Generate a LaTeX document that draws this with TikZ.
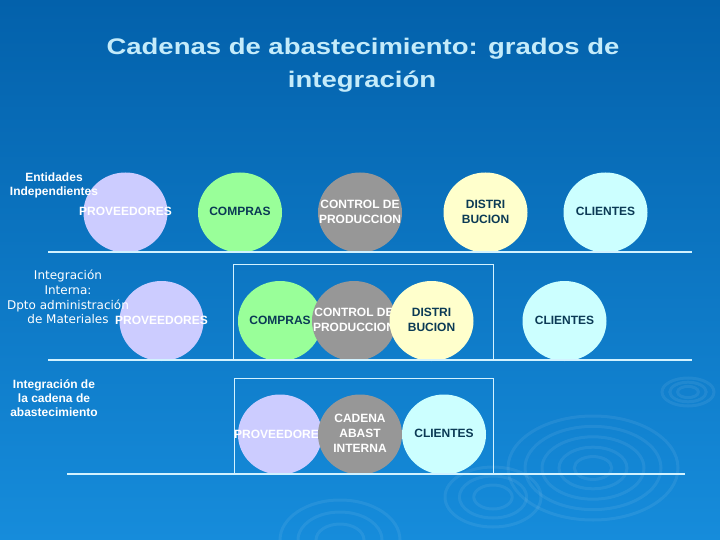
\documentclass[tikz,border=0pt]{standalone}
\usepackage{fontspec}
\usepackage{graphicx}
\setmainfont{Liberation Sans}
\newfontfamily\dvfont{DejaVu Sans}
\usetikzlibrary{shapes.geometric}
\definecolor{bgtop}{HTML}{0361AB}
\definecolor{bgmid}{HTML}{066BB7}
\definecolor{bgbot}{HTML}{168CDB}
\definecolor{cLav}{HTML}{CCCCFF}
\definecolor{cGreen}{HTML}{99FF99}
\definecolor{cGray}{HTML}{979797}
\definecolor{cYel}{HTML}{FFFFCC}
\definecolor{cCyan}{HTML}{CCFFFF}
\definecolor{cDark}{HTML}{0B3A55}
\definecolor{cTitle}{HTML}{C4EBFA}
\definecolor{cLine}{HTML}{D2F2FF}
\newcommand\ctxt[1]{\makebox[0pt]{\begin{tabular}{@{}c@{}}#1\end{tabular}}}
\begin{document}
\begin{tikzpicture}[x=1pt,y=-1pt,
  disc/.style={ellipse, minimum width=84pt, minimum height=80pt, inner sep=0pt,
    font=\fontsize{12}{15}\selectfont\bfseries},
  lav/.style={disc, fill=cLav, text=white},
  grn/.style={disc, fill=cGreen, text=cDark},
  gry/.style={disc, fill=cGray, text=white},
  yel/.style={disc, fill=cYel, text=cDark},
  cya/.style={disc, fill=cCyan, text=cDark},
  baseline/.style={draw=cLine, line width=1.3pt},
  frame/.style={draw=cLine, line width=0.8pt},
  titletext/.style={text=cTitle, font=\fontsize{27.5}{33}\selectfont\bfseries, anchor=base, inner sep=0pt},
  lblbold/.style={text=white, align=center, inner sep=0pt},
  ripple/.style={draw=white, opacity=0.07, line width=3pt}
]
\useasboundingbox (0,0) rectangle (720,540);
\shade[top color=bgtop, middle color=bgmid, bottom color=bgbot] (0,0) rectangle (720,540);

% ripples
\foreach \r in {1,0.8,0.6,0.4,0.22} {
  \draw[ripple] (593,468) ellipse ({85*\r} and {52*\r});
}
\foreach \r in {1,0.7,0.4} {
  \draw[ripple] (688,392) ellipse ({26*\r} and {14*\r});
  \draw[ripple] (493,497) ellipse ({48*\r} and {30*\r});
  \draw[ripple] (340,540) ellipse ({60*\r} and {40*\r});
}

% title
\node[titletext] (t1) at (363,55) {\scalebox{1}[0.82]{Cadenas de abastecimiento: grados de}};
\node[titletext] (t2) at (362,88) {\scalebox{1}[0.82]{integración}};

% frames
\draw[frame] (233,360) |- (493,264) -- (493,360);
\draw[frame] (234,474) |- (493,378) -- (493,474);

% row 1
\node[lav] (p1) at (125.5,212.5) {\ctxt{PROVEEDORES}};
\node[grn] (c1) at (240,212.5) {\ctxt{COMPRAS}};
\node[gry] (k1) at (360,212.5) {\ctxt{CONTROL DE\\PRODUCCION}};
\node[yel] (d1) at (485.5,212.5) {\ctxt{DISTRI\\BUCION}};
\node[cya] (l1) at (605.5,212.5) {\ctxt{CLIENTES}};

% row 2
\node[lav] (p2) at (161.5,321) {\ctxt{PROVEEDORES}};
\node[grn] (c2) at (280,321) {\ctxt{COMPRAS}};
\node[gry] (k2) at (354,321) {\ctxt{CONTROL DE\\PRODUCCION}};
\node[yel] (d2) at (431.5,321) {\ctxt{DISTRI\\BUCION}};
\node[cya] (l2) at (564.5,321) {\ctxt{CLIENTES}};

% row 3
\node[lav] (p3) at (280,434.5) {\makebox[0pt]{PROVEEDORE\hspace{7pt}}};
\node[gry] (k3) at (360,434.5) {\ctxt{CADENA\\ABAST\\INTERNA}};
\node[cya] (l3) at (444,434.5) {\ctxt{CLIENTES}};

% base lines
\coordinate (a1) at (48,252); \coordinate (b1) at (692,252);
\coordinate (a2) at (48,360); \coordinate (b2) at (692,360);
\coordinate (a3) at (67,474); \coordinate (b3) at (685,474);
\draw[baseline] (a1) -- (b1);
\draw[baseline] (a2) -- (b2);
\draw[baseline] (a3) -- (b3);

% left labels
\node[lblbold, font=\fontsize{12}{14.5}\selectfont\bfseries] (e1) at (54,185.5) {Entidades\\Independientes};
\node[lblbold, font=\dvfont\fontsize{12}{14.7}\selectfont] (e2) at (68,297) {Integración\\Interna:\\Dpto administración\\de Materiales};
\node[lblbold, font=\fontsize{12}{14}\selectfont\bfseries] (e3) at (54,398) {Integración de\\la cadena de\\abastecimiento};
\end{tikzpicture}
\end{document}
